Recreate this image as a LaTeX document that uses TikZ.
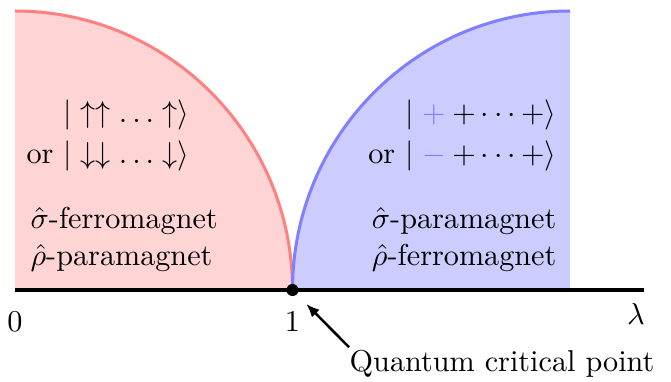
\documentclass[tikz,border=0pt]{standalone}
\usepackage{amsmath}
\usetikzlibrary{arrows.meta}
\begin{document}
\begin{tikzpicture}[x=0.3311pt,y=0.3311pt,
  boundary/.style={line width=1pt},
  axisline/.style={line width=1.3pt},
  lbl/.style={inner sep=0pt},
  dotnode/.style={circle,fill=black,inner sep=0pt,minimum size=4pt},
  pointer/.style={line width=0.85pt,-{Latex[length=4.4pt,width=3.6pt]},shorten >=4.3pt}
  ]
\useasboundingbox (0,0) rectangle (671,381);
% phase regions
\fill[red!17] (15,91) -- (15,370) arc[start angle=90,end angle=0,x radius=277.5,y radius=279] -- cycle;
\fill[blue!20] (292.5,91) arc[start angle=180,end angle=90,x radius=277.5,y radius=279] -- (570,91) -- cycle;
\draw[red!50,boundary] (15,370) arc[start angle=90,end angle=0,x radius=277.5,y radius=279];
\draw[blue!50,boundary] (292.5,91) arc[start angle=180,end angle=90,x radius=277.5,y radius=279];
% axis
\coordinate (axstart) at (15,91);
\coordinate (axend) at (644,91);
\draw[axisline] (axstart) -- (axend);
\node[dotnode] (qcp) at (292.5,91) {};
% left texts
\node[lbl,anchor=base east] (kup) at (190,259) {$|\uparrow\uparrow\ldots\uparrow\rangle$};
\node[lbl,anchor=base east] (kdn) at (190,218) {or $|\downarrow\downarrow\ldots\downarrow\rangle$};
\node[lbl,anchor=base west] (lf1) at (30,153) {$\hat\sigma$-ferromagnet};
\node[lbl,anchor=base west] (lf2) at (30,116) {$\hat\rho$-paramagnet};
% right texts
\node[lbl,anchor=base east] (kp) at (557,259) {$|\;{\color{blue!50}+}\:{+}\cdots{+}\rangle$};
\node[lbl,anchor=base east] (km) at (557,218) {or $|\;{\color{blue!50}-}\:{+}\cdots{+}\rangle$};
\node[lbl,anchor=base east] (rf1) at (557,153) {$\hat\sigma$-paramagnet};
\node[lbl,anchor=base east] (rf2) at (557,116) {$\hat\rho$-ferromagnet};
% axis labels
\node[lbl,anchor=base] (l0) at (15,50) {$0$};
\node[lbl,anchor=base] (l1) at (292.5,50) {$1$};
\node[lbl,anchor=base] (llam) at (636,57) {$\lambda$};
\node[lbl,anchor=base east] (qlbl) at (655,10) {Quantum critical point};
\draw[pointer] ([yshift=0.6pt]qlbl.north west) -- (qcp);
\end{tikzpicture}
\end{document}
